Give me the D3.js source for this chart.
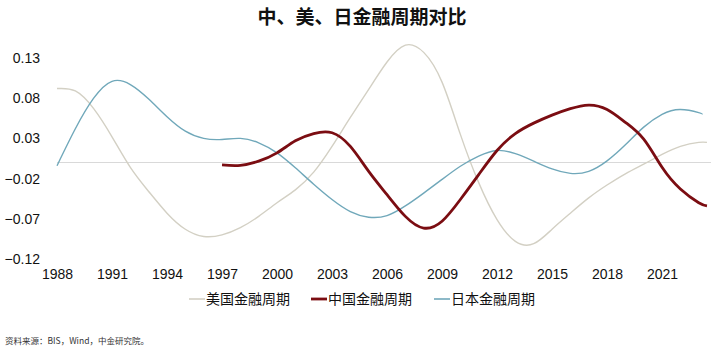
<!DOCTYPE html>
<html>
<head>
<meta charset="utf-8">
<script src="https://cdn.jsdelivr.net/npm/d3@7"></script>
<style>
  body { margin: 0; background: #fff; }
  svg { font-family: "Liberation Sans", Arial, "Noto Sans CJK SC", sans-serif; }
</style>
</head>
<body>
<div id="chart"></div>
<script>
// 中、美、日金融周期对比

var width = 720;
var height = 351;

// data (year, value)
var usYears = [1988, 1989, 1990, 1991, 1992, 1993, 1994, 1995, 1996, 1997, 1998, 1999, 2000, 2001, 2002, 2003, 2004, 2005, 2006, 2007, 2008, 2009, 2010, 2011, 2012, 2013, 2014, 2015, 2016, 2017, 2018, 2019, 2020, 2021, 2022, 2023, 2023.45];
var usValues = [0.092, 0.089, 0.067, 0.032, -0.006, -0.036, -0.063, -0.083, -0.092, -0.090, -0.081, -0.067, -0.050, -0.034, -0.012, 0.020, 0.056, 0.091, 0.125, 0.146, 0.137, 0.100, 0.035, -0.025, -0.071, -0.098, -0.101, -0.083, -0.063, -0.044, -0.028, -0.014, -0.002, 0.010, 0.020, 0.025, 0.025];

var cnYears = [1997, 1998, 1999, 2000, 2001, 2002, 2003, 2004, 2005, 2006, 2007, 2008, 2009, 2010, 2011, 2012, 2013, 2014, 2015, 2016, 2017, 2018, 2019, 2020, 2021, 2022, 2023, 2023.45];
var cnValues = [-0.003, -0.0035, 0.0017, 0.012, 0.027, 0.036, 0.037, 0.020, -0.011, -0.040, -0.067, -0.0815, -0.073, -0.046, -0.015, 0.015, 0.036, 0.049, 0.059, 0.067, 0.0715, 0.066, 0.050, 0.029, -0.006, -0.033, -0.050, -0.054];

var jpYears = [1988, 1989, 1990, 1991, 1992, 1993, 1994, 1995, 1996, 1997, 1998, 1999, 2000, 2001, 2002, 2003, 2004, 2005, 2006, 2007, 2008, 2009, 2010, 2011, 2012, 2013, 2014, 2015, 2016, 2017, 2018, 2019, 2020, 2021, 2022, 2023, 2023.17];
var jpValues = [-0.004, 0.042, 0.080, 0.101, 0.097, 0.079, 0.057, 0.039, 0.030, 0.0287, 0.030, 0.0245, 0.012, -0.0066, -0.027, -0.046, -0.061, -0.068, -0.066, -0.054, -0.038, -0.021, -0.0046, 0.008, 0.015, 0.011, 0.0017, -0.008, -0.0135, -0.011, 0.002, 0.022, 0.044, 0.060, 0.066, 0.062, 0.060];

var xTicks = [1988, 1991, 1994, 1997, 2000, 2003, 2006, 2009, 2012, 2015, 2018, 2021];
var yTicks = [-0.12, -0.07, -0.02, 0.03, 0.08, 0.13];

var seriesNames = ["美国金融周期", "中国金融周期", "日本金融周期"];
var seriesColors = ["#d3d0c4", "#7b0d12", "#70a8ba"];
var seriesWidths = [1.4, 2.8, 1.4];

var svg = d3.select("#chart")
    .append("svg")
    .attr("width", width)
    .attr("height", height);

var x = d3.scaleLinear()
    .domain([1988, 2023.67])
    .range([57, 711]);

var y = d3.scaleLinear()
    .domain([-0.12, 0.13])
    .range([259, 58]);

// title
svg.append("text")
    .attr("x", 362)
    .attr("y", 24)
    .attr("text-anchor", "middle")
    .attr("font-family", "'Noto Sans CJK SC', sans-serif")
    .attr("font-weight", "bold")
    .attr("font-size", 19)
    .attr("fill", "#111")
    .text("中、美、日金融周期对比");

// y axis (labels only)
var yAxis = svg.append("g")
    .attr("transform", "translate(44,0)")
    .call(d3.axisLeft(y).tickValues(yTicks).tickFormat(d3.format(".2f")).tickSize(0).tickPadding(4));
yAxis.select(".domain").remove();
yAxis.selectAll("text").attr("font-size", 14).attr("fill", "#111")
    .attr("font-family", "'Liberation Sans', Arial, sans-serif");

// x axis (labels only)
var xAxis = svg.append("g")
    .attr("transform", "translate(0,266)")
    .call(d3.axisBottom(x).tickValues(xTicks).tickFormat(d3.format("d")).tickSize(0).tickPadding(3));
xAxis.select(".domain").remove();
xAxis.selectAll("text").attr("font-size", 14).attr("fill", "#111")
    .attr("font-family", "'Liberation Sans', Arial, sans-serif");

// zero line
svg.append("line")
    .attr("x1", x(1988))
    .attr("x2", x(2023.67))
    .attr("y1", y(0))
    .attr("y2", y(0))
    .attr("stroke", "#d9d9d9")
    .attr("stroke-width", 1);

var line = d3.line()
    .x(function(d) { return x(d[0]); })
    .y(function(d) { return y(d[1]); })
    .curve(d3.curveNatural);

var allSeries = [
    d3.zip(usYears, usValues),
    d3.zip(cnYears, cnValues),
    d3.zip(jpYears, jpValues)
];

// draw order: us, japan, china on top
[0, 2, 1].forEach(function(i) {
    svg.append("path")
        .datum(allSeries[i])
        .attr("fill", "none")
        .attr("stroke", seriesColors[i])
        .attr("stroke-width", seriesWidths[i])
        .attr("stroke-linejoin", "round")
        .attr("d", line);
});

// legend
var legendX = [189, 311, 434];
var legend = svg.append("g");
seriesNames.forEach(function(name, i) {
    legend.append("line")
        .attr("x1", legendX[i])
        .attr("x2", legendX[i] + 16)
        .attr("y1", 299)
        .attr("y2", 299)
        .attr("stroke", seriesColors[i])
        .attr("stroke-width", i == 1 ? 2.8 : 1.6);
    legend.append("text")
        .attr("x", legendX[i] + 17)
        .attr("y", 304)
        .attr("font-family", "'Noto Sans CJK SC', sans-serif")
        .attr("font-size", 14)
        .attr("fill", "#111")
        .text(name);
});

// source note
svg.append("text")
    .attr("x", 5)
    .attr("y", 344)
    .attr("font-family", "'Noto Sans CJK SC', sans-serif")
    .attr("font-size", 8.5)
    .attr("fill", "#333")
    .text("资料来源：BIS，Wind，中金研究院。");
</script>
</body>
</html>
